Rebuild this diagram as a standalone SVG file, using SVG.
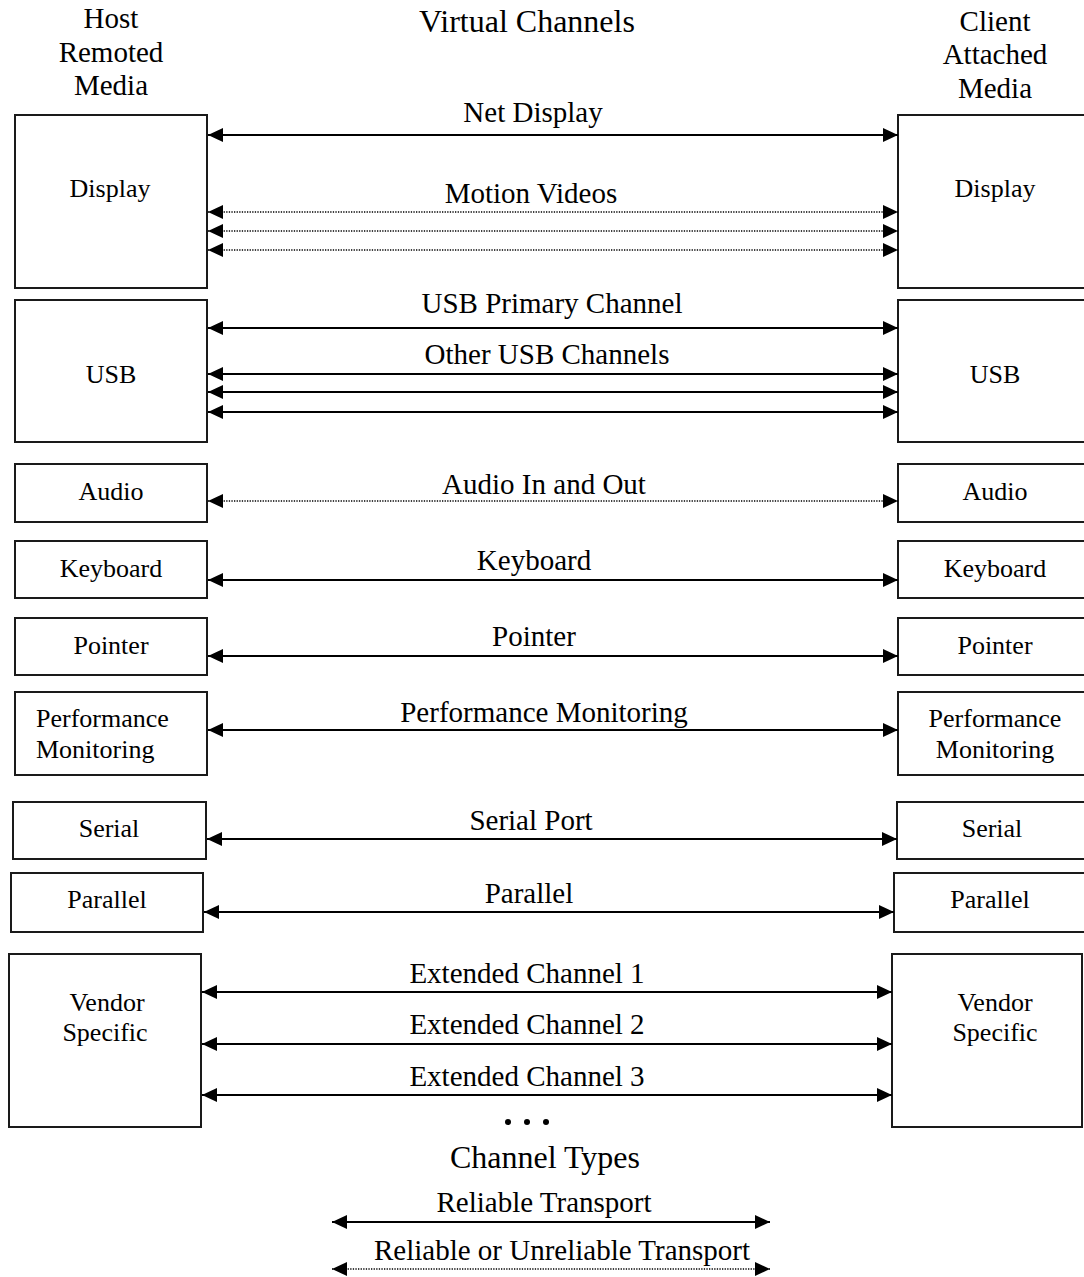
<svg xmlns="http://www.w3.org/2000/svg" width="1084" height="1277" viewBox="0 0 1084 1277">
  <style>
    text { font-family: "Liberation Serif", "Times New Roman", serif; fill: #000; }
    .title { font-size: 32px; text-anchor: middle; }
    .head { font-size: 29px; text-anchor: middle; }
    .lbl { font-size: 29px; text-anchor: middle; }
    .box text { font-size: 26px; text-anchor: middle; }
    .box rect { fill: #fff; stroke: #1a1a1a; stroke-width: 2; }
    .solid { stroke: #000; stroke-width: 2; fill: none; marker-start: url(#head); marker-end: url(#head); }
    .dotted { stroke: #000; stroke-width: 1.6; stroke-dasharray: 1.3 1.3; fill: none; marker-start: url(#head); marker-end: url(#head); }
  </style>
  <defs>
    <marker id="head" viewBox="0 0 15 14" refX="15" refY="7" markerWidth="15" markerHeight="14" markerUnits="userSpaceOnUse" orient="auto-start-reverse">
      <path d="M0,0 L15,7 L0,14 z" fill="#000"/>
    </marker>
  </defs>
  <rect width="1084" height="1277" fill="#fff"/>

  <!-- column headings -->
  <text class="head" x="111" y="28">Host</text>
  <text class="head" x="111" y="62">Remoted</text>
  <text class="head" x="111" y="95">Media</text>
  <text class="title" x="527" y="32">Virtual Channels</text>
  <text class="head" x="995" y="31">Client</text>
  <text class="head" x="995" y="64">Attached</text>
  <text class="head" x="995" y="98">Media</text>

  <!-- host side endpoints -->
  <g id="host-display" class="box"><rect x="15" y="115" width="192" height="173"/><text x="110" y="197">Display</text></g>
  <g id="host-usb" class="box"><rect x="15" y="300" width="192" height="142"/><text x="111" y="383">USB</text></g>
  <g id="host-audio" class="box"><rect x="15" y="464" width="192" height="58"/><text x="111" y="500">Audio</text></g>
  <g id="host-keyboard" class="box"><rect x="15" y="541" width="192" height="57"/><text x="111" y="577">Keyboard</text></g>
  <g id="host-pointer" class="box"><rect x="15" y="618" width="192" height="57"/><text x="111" y="654">Pointer</text></g>
  <g id="host-perf" class="box"><rect x="15" y="692" width="192" height="83"/><text x="36" y="727" style="text-anchor:start">Performance</text><text x="36" y="758" style="text-anchor:start">Monitoring</text></g>
  <g id="host-serial" class="box"><rect x="13" y="802" width="193" height="57"/><text x="109" y="837">Serial</text></g>
  <g id="host-parallel" class="box"><rect x="11" y="873" width="192" height="59"/><text x="107" y="908">Parallel</text></g>
  <g id="host-vendor" class="box"><rect x="9" y="954" width="192" height="173"/><text x="107" y="1011">Vendor</text><text x="105" y="1041">Specific</text></g>

  <!-- client side endpoints -->
  <g id="client-display" class="box"><rect x="898" y="115" width="194" height="173"/><text x="995" y="197">Display</text></g>
  <g id="client-usb" class="box"><rect x="898" y="300" width="194" height="142"/><text x="995" y="383">USB</text></g>
  <g id="client-audio" class="box"><rect x="898" y="464" width="194" height="58"/><text x="995" y="500">Audio</text></g>
  <g id="client-keyboard" class="box"><rect x="898" y="541" width="194" height="57"/><text x="995" y="577">Keyboard</text></g>
  <g id="client-pointer" class="box"><rect x="898" y="618" width="194" height="57"/><text x="995" y="654">Pointer</text></g>
  <g id="client-perf" class="box"><rect x="898" y="692" width="194" height="83"/><text x="995" y="727">Performance</text><text x="995" y="758">Monitoring</text></g>
  <g id="client-serial" class="box"><rect x="897" y="802" width="195" height="57"/><text x="992" y="837">Serial</text></g>
  <g id="client-parallel" class="box"><rect x="894" y="873" width="198" height="59"/><text x="990" y="908">Parallel</text></g>
  <g id="client-vendor" class="box"><rect x="892" y="954" width="190" height="173"/><text x="995" y="1011">Vendor</text><text x="995" y="1041">Specific</text></g>

  <!-- virtual channel connectors -->
  <g id="connectors">
    <line class="solid" x1="208" y1="135" x2="898" y2="135"/>
    <line class="dotted" x1="208" y1="212" x2="898" y2="212"/>
    <line class="dotted" x1="208" y1="231" x2="898" y2="231"/>
    <line class="dotted" x1="208" y1="250" x2="898" y2="250"/>
    <line class="solid" x1="208" y1="328" x2="898" y2="328"/>
    <line class="solid" x1="208" y1="374" x2="898" y2="374"/>
    <line class="solid" x1="208" y1="392" x2="898" y2="392"/>
    <line class="solid" x1="208" y1="412" x2="898" y2="412"/>
    <line class="dotted" x1="208" y1="501" x2="898" y2="501"/>
    <line class="solid" x1="208" y1="580" x2="898" y2="580"/>
    <line class="solid" x1="208" y1="656" x2="898" y2="656"/>
    <line class="solid" x1="208" y1="730" x2="898" y2="730"/>
    <line class="solid" x1="207" y1="839" x2="897" y2="839"/>
    <line class="solid" x1="204" y1="912" x2="894" y2="912"/>
    <line class="solid" x1="202" y1="992" x2="892" y2="992"/>
    <line class="solid" x1="202" y1="1044" x2="892" y2="1044"/>
    <line class="solid" x1="202" y1="1095" x2="892" y2="1095"/>
    <!-- legend samples -->
    <line class="solid" x1="332" y1="1222" x2="770" y2="1222"/>
    <line class="dotted" x1="332" y1="1269" x2="770" y2="1269"/>
  </g>

  <!-- channel labels -->
  <text class="lbl" x="533" y="122">Net Display</text>
  <text class="lbl" x="531" y="203">Motion Videos</text>
  <text class="lbl" x="552" y="313">USB Primary Channel</text>
  <text class="lbl" x="547" y="364">Other USB Channels</text>
  <text class="lbl" x="544" y="494">Audio In and Out</text>
  <text class="lbl" x="534" y="570">Keyboard</text>
  <text class="lbl" x="534" y="646">Pointer</text>
  <text class="lbl" x="544" y="722">Performance Monitoring</text>
  <text class="lbl" x="531" y="830">Serial Port</text>
  <text class="lbl" x="529" y="903">Parallel</text>
  <text class="lbl" x="527" y="983">Extended Channel 1</text>
  <text class="lbl" x="527" y="1034">Extended Channel 2</text>
  <text class="lbl" x="527" y="1086">Extended Channel 3</text>

  <!-- ellipsis -->
  <circle cx="508" cy="1122" r="3" fill="#000"/>
  <circle cx="527" cy="1122" r="3" fill="#000"/>
  <circle cx="546" cy="1122" r="3" fill="#000"/>

  <!-- legend -->
  <text class="title" x="545" y="1168">Channel Types</text>
  <text class="lbl" x="544" y="1212">Reliable Transport</text>
  <text class="lbl" x="562" y="1260">Reliable or Unreliable Transport</text>
</svg>
